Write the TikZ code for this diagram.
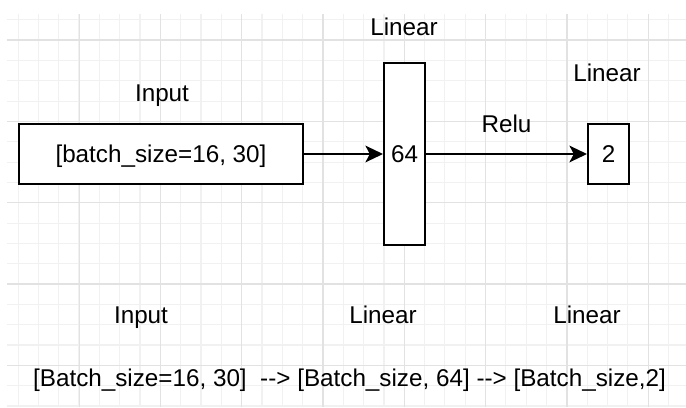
\documentclass[tikz,border=0pt]{standalone}
\usepackage{fontspec}
\setmainfont{Liberation Sans}
\usetikzlibrary{arrows.meta}

\definecolor{gridminor}{HTML}{F1F1F1}
\definecolor{gridmajor}{HTML}{E2E2E2}

\begin{document}
\begin{tikzpicture}[x=0.02cm, y=0.02cm, >={Stealth[length=10pt, width=9.5pt, inset=2.5pt]},
    font=\fontsize{13.8}{16}\selectfont,
    layer/.style={draw, line width=1.15pt, fill=white, inner sep=0pt,
                  text height=9.9pt, text depth=0pt},
    lbl/.style={anchor=base, inner sep=0pt},
    flow/.style={->, line width=1.15pt}]

  \useasboundingbox (0,0) rectangle (686,407);

  % background grid
  \begin{scope}
    \clip (7,0) rectangle (686,393);
    \foreach \k in {0,...,34}
      \draw[gridminor, line width=0.6pt] ({-2.3+20.33*\k},0) -- ++(0,407);
    \foreach \k in {0,...,20}
      \draw[gridminor, line width=0.6pt] (0,{407.6-20.33*\k}) -- ++(686,0);
    \foreach \k in {0,...,8}
      \draw[gridmajor, line width=0.6pt] ({-2.3+81.33*\k},0) -- ++(0,407);
    \foreach \k in {0,...,4}
      \draw[gridmajor, line width=0.6pt] (0,{367-81.33*\k}) -- ++(686,0);
  \end{scope}

  \node[layer, minimum width=5.68cm, minimum height=1.2cm] (inp) at (161,253)
    {[batch\_size=16, 30]};
  \node[layer, minimum width=0.82cm, minimum height=3.64cm] (hid) at (404.5,253) {64};
  \node[layer, minimum width=0.82cm, minimum height=1.2cm] (out) at (608.5,253) {2};

  \node[lbl] (inpname) at (162,306) {Input};
  \node[lbl] (hidname) at (404,372) {Linear};
  \node[lbl] (outname) at (607,326) {Linear};

  \draw[flow] (inp) -- (hid);
  \draw[flow] (hid) -- node[lbl, yshift=0.44cm] (act) {Relu} (out);

  \node[lbl] (inpshape) at (141,84) {Input};
  \node[lbl] (hidshape) at (383,84) {Linear};
  \node[lbl] (outshape) at (587,84) {Linear};

  \node[lbl] (shapes) at (349.5,21)
    {[Batch\_size=16, 30]\ \ -\kern0pt-> [Batch\_size, 64] -\kern0pt-> [Batch\_size,2]};

\end{tikzpicture}
\end{document}
